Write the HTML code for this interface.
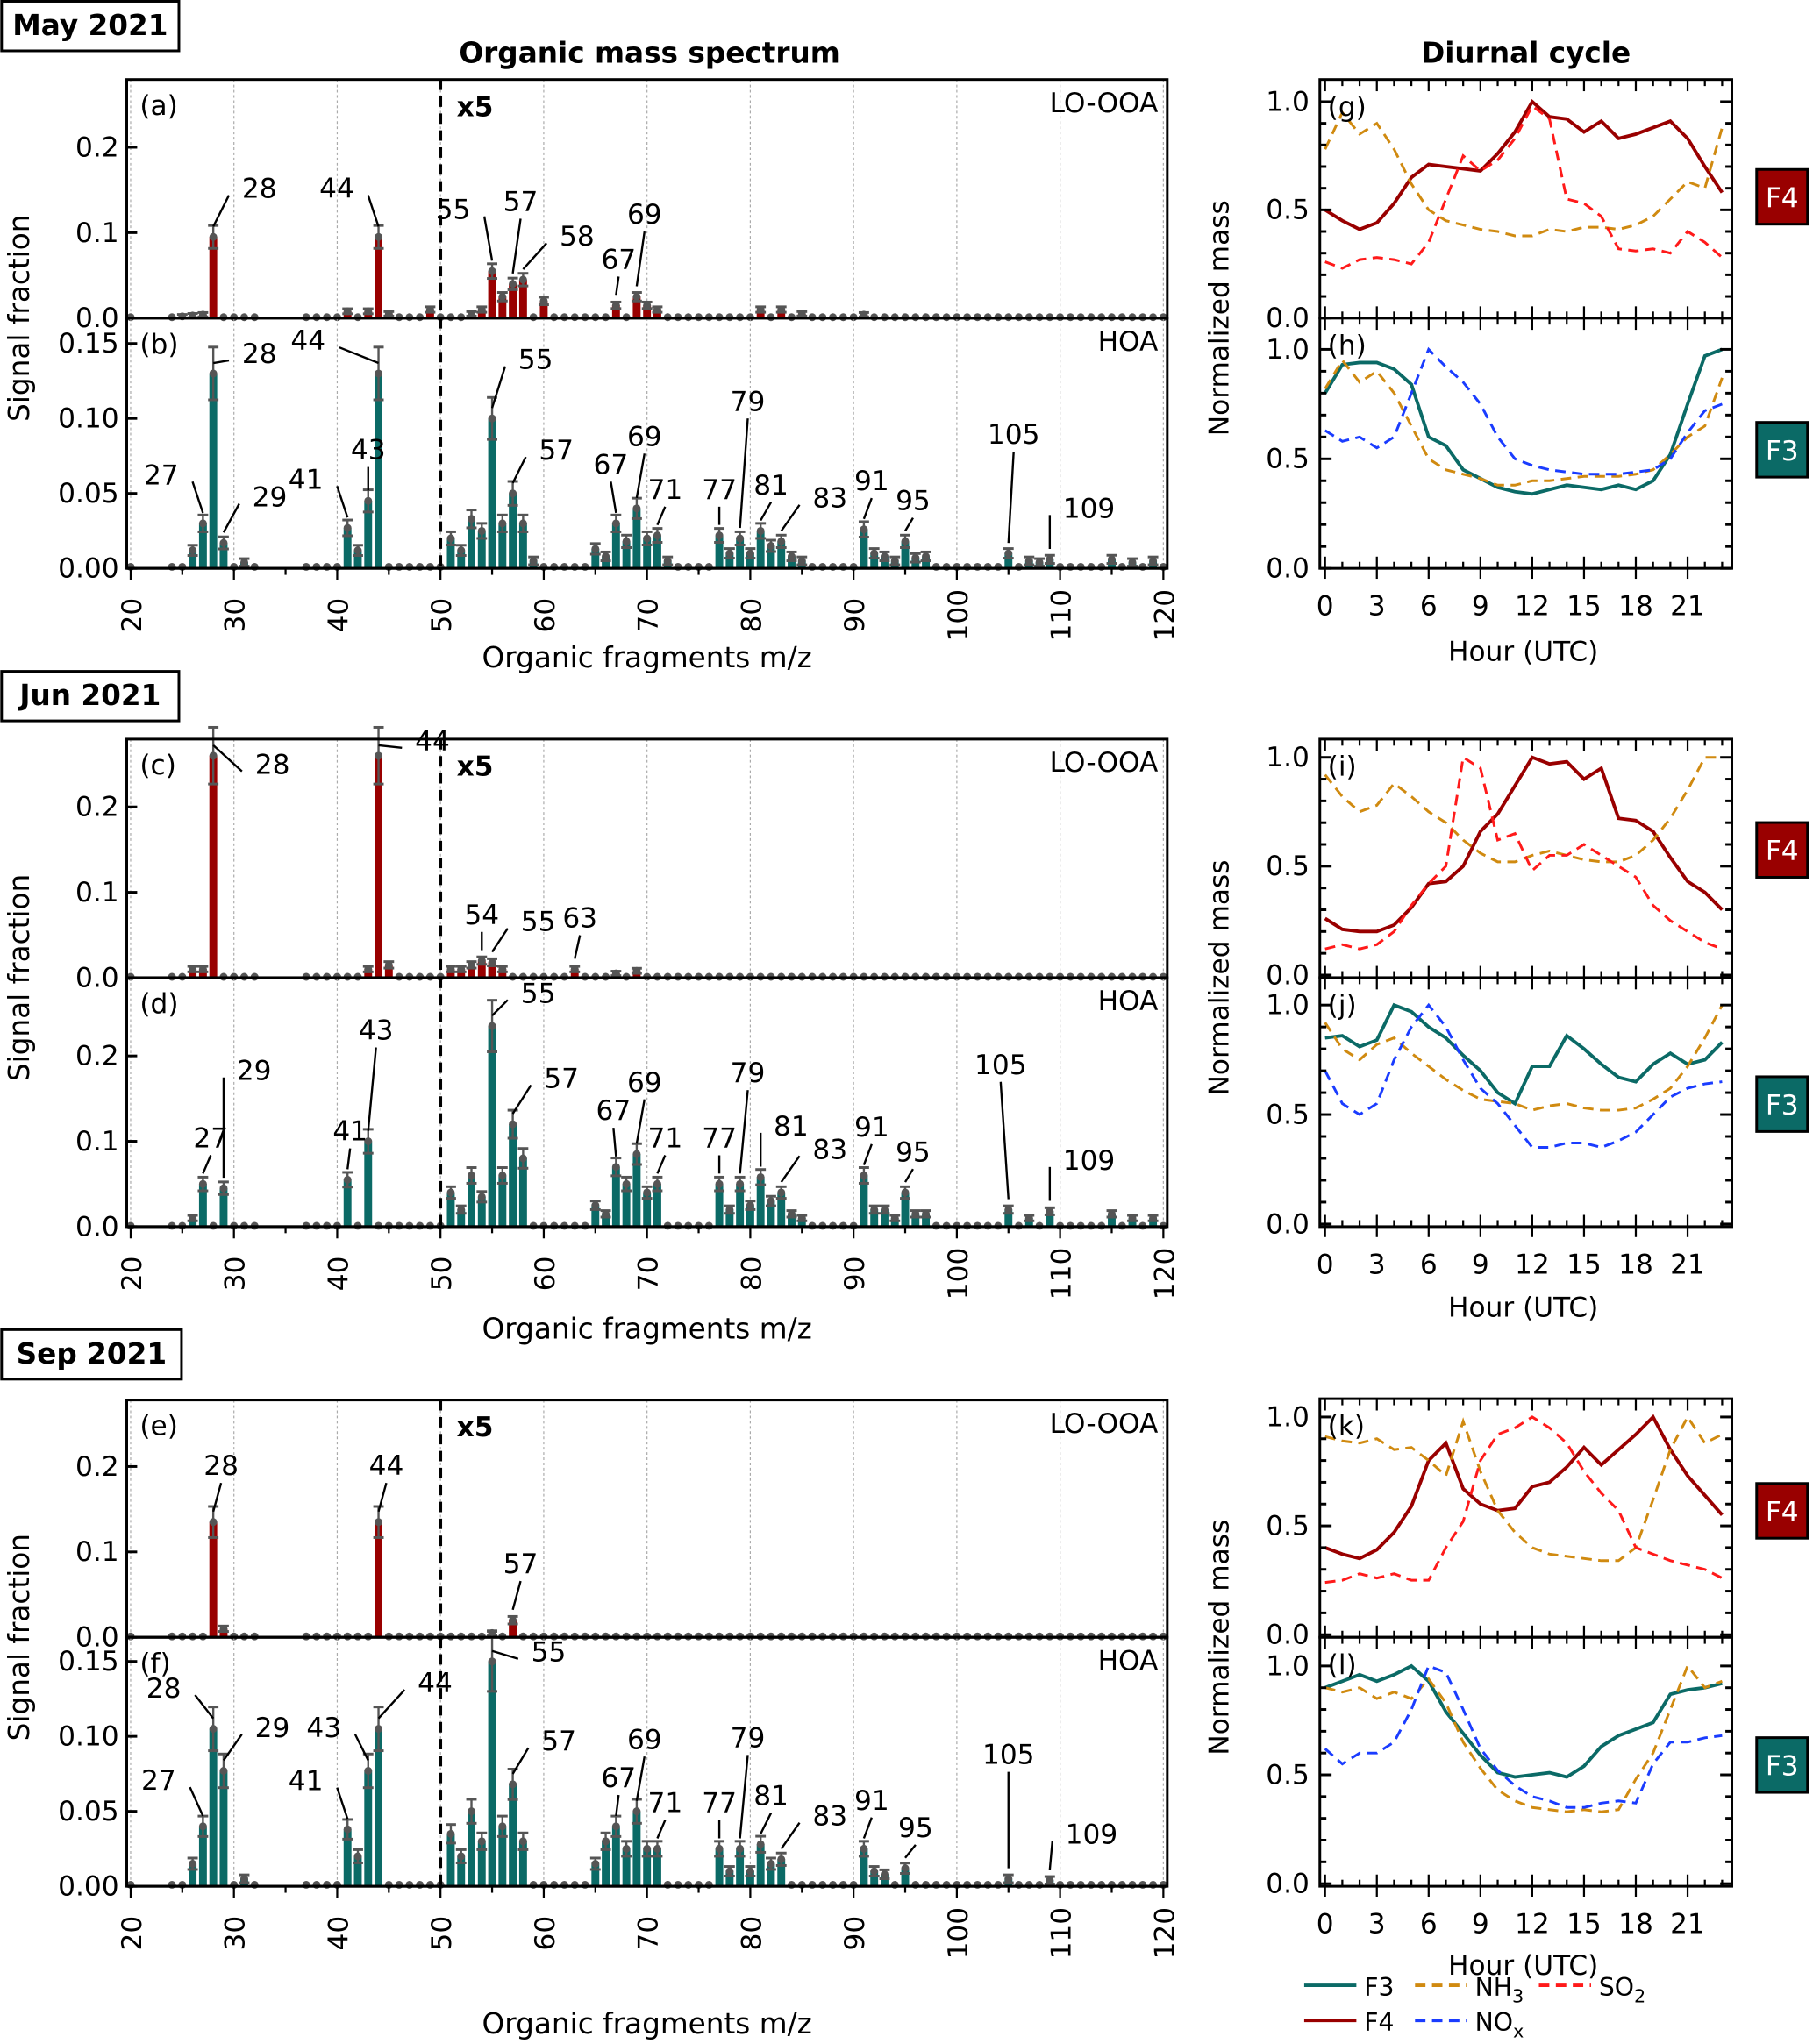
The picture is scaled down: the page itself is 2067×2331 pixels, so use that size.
<!DOCTYPE html>
<html><head><meta charset="utf-8"><style>
html,body{margin:0;padding:0;background:#fff}
svg{display:block}
text{font-family:"DejaVu Sans","Liberation Sans",sans-serif;fill:#000}
</style></head><body>
<svg id="fig" width="2067" height="2331" viewBox="0 0 1390 1568" xmlns="http://www.w3.org/2000/svg"></svg>
<script>
// ---- spectrum data (plotted signal fraction, m/z>50 already x5) ----
const mzA=[25,26,27,28,41,43,44,45,49,53,54,55,56,57,58,60,67,69,70,71,81,83,85,91];
const valA=[0.002,0.003,0.004,0.095,0.008,0.008,0.095,0.005,0.01,0.005,0.01,0.055,0.025,0.04,0.045,0.02,0.015,0.025,0.015,0.01,0.01,0.01,0.005,0.004];
const mzB=[26,27,28,29,31,41,42,43,44,51,52,53,54,55,56,57,58,59,65,66,67,68,69,70,71,72,77,78,79,80,81,82,83,84,85,91,92,93,94,95,96,97,105,107,108,109,115,117,119];
const valB=[0.012,0.03,0.13,0.017,0.004,0.027,0.012,0.045,0.13,0.02,0.012,0.033,0.025,0.10,0.03,0.05,0.03,0.005,0.013,0.008,0.03,0.018,0.04,0.02,0.022,0.005,0.022,0.01,0.02,0.01,0.025,0.015,0.018,0.008,0.005,0.026,0.01,0.008,0.005,0.018,0.007,0.008,0.01,0.005,0.004,0.006,0.006,0.004,0.005];
const mzC=[26,27,28,43,44,45,51,52,53,54,55,56,63,67,69];
const valC=[0.01,0.01,0.26,0.01,0.26,0.015,0.01,0.01,0.015,0.02,0.018,0.01,0.01,0.005,0.008];
const mzD=[26,27,29,41,43,51,52,53,54,55,56,57,58,65,66,67,68,69,70,71,77,78,79,80,81,82,83,84,85,91,92,93,94,95,96,97,105,107,109,115,117,119];
const valD=[0.01,0.05,0.045,0.055,0.1,0.04,0.02,0.06,0.035,0.235,0.06,0.12,0.08,0.025,0.015,0.07,0.05,0.085,0.04,0.05,0.05,0.02,0.05,0.025,0.058,0.03,0.04,0.015,0.01,0.06,0.02,0.02,0.01,0.04,0.015,0.015,0.02,0.01,0.018,0.015,0.01,0.01];
const mzE=[28,29,44,55,57];
const valE=[0.135,0.01,0.135,0.005,0.02];
const mzF=[26,27,28,29,31,41,42,43,44,51,52,53,54,55,56,57,58,65,66,67,68,69,70,71,77,78,79,80,81,82,83,91,92,93,95,105,109];
const valF=[0.015,0.04,0.105,0.077,0.005,0.038,0.02,0.077,0.105,0.035,0.02,0.05,0.03,0.15,0.04,0.068,0.03,0.015,0.03,0.04,0.025,0.05,0.025,0.025,0.025,0.01,0.025,0.01,0.028,0.015,0.018,0.025,0.01,0.008,0.012,0.005,0.004];
// annotations: [m/z, label, dx, dy]
const annA=[[28,"28",22,-22],[44,"44",-18,-22],[55,"55",-16,-32],[57,"57",6,-48],[58,"58",28,-18],[67,"67",2,-20],[69,"69",6,-48]];
const annB=[[27,"27",-18,-22],[28,"28",22,0],[29,"29",22,-20],[41,"41",-18,-22],[43,"43",0,-24],[44,"44",-40,-10],[55,"55",20,-30],[57,"57",20,-18],[67,"67",-4,-30],[69,"69",6,-40],[71,"71",6,-20],[77,"77",0,-20],[79,"79",6,-90],[81,"81",8,-20],[83,"83",24,-18],[91,"91",6,-22],[95,"95",6,-16],[105,"105",4,-76],[109,"109",10,-24]];
const annC=[[28,"28",32,22],[44,"44",28,4],[54,"54",0,-20],[55,"55",22,-16],[63,"63",4,-24]];
const annD=[[27,"27",6,-20],[29,"29",10,-75],[41,"41",2,-22],[43,"43",6,-70],[55,"55",22,-10],[57,"57",24,-20],[67,"67",-2,-28],[69,"69",6,-40],[71,"71",6,-20],[77,"77",0,-20],[79,"79",6,-70],[81,"81",10,-24],[83,"83",24,-18],[91,"91",6,-22],[95,"95",6,-16],[105,"105",-6,-96],[109,"109",10,-24]];
const annE=[[28,"28",6,-28],[44,"44",6,-28],[57,"57",6,-28]];
const annF=[[27,"27",-20,-20],[28,"28",-24,-16],[29,"29",24,-18],[41,"41",-18,-22],[43,"43",-20,-18],[44,"44",30,-20],[55,"55",30,8],[57,"57",22,-18],[67,"67",2,-22],[69,"69",6,-40],[71,"71",6,-20],[77,"77",0,-20],[79,"79",6,-70],[81,"81",8,-22],[83,"83",24,-18],[91,"91",6,-22],[95,"95",8,-16],[105,"105",0,-80],[109,"109",12,-20]];
// ---- diurnal data ----
const hours=[0,1,2,3,4,5,6,7,8,9,10,11,12,13,14,15,16,17,18,19,20,21,22,23];
const gF4=[0.5,0.45,0.41,0.44,0.53,0.65,0.71,0.70,0.69,0.68,0.76,0.86,1.0,0.93,0.92,0.86,0.91,0.83,0.85,0.88,0.91,0.83,0.70,0.58];
const gNH3=[0.78,0.95,0.85,0.9,0.78,0.62,0.5,0.45,0.43,0.41,0.40,0.38,0.38,0.41,0.40,0.42,0.42,0.41,0.43,0.47,0.55,0.63,0.60,0.88];
const gSO2=[0.26,0.23,0.27,0.28,0.27,0.25,0.35,0.55,0.75,0.68,0.73,0.83,0.98,0.92,0.55,0.53,0.47,0.32,0.31,0.32,0.30,0.40,0.35,0.28];
const hF3=[0.8,0.93,0.94,0.94,0.91,0.84,0.6,0.56,0.45,0.41,0.37,0.35,0.34,0.36,0.38,0.37,0.36,0.38,0.36,0.4,0.52,0.75,0.97,1.0];
const hNH3=[0.82,0.95,0.85,0.9,0.8,0.65,0.5,0.45,0.43,0.41,0.38,0.38,0.4,0.4,0.41,0.42,0.42,0.42,0.43,0.45,0.52,0.60,0.65,0.87];
const hNOx=[0.63,0.58,0.6,0.55,0.6,0.8,1.0,0.92,0.85,0.75,0.6,0.5,0.47,0.45,0.44,0.43,0.43,0.43,0.44,0.45,0.5,0.62,0.72,0.75];
const iF4=[0.26,0.21,0.2,0.2,0.23,0.31,0.42,0.43,0.5,0.66,0.74,0.87,1.0,0.97,0.98,0.9,0.95,0.72,0.71,0.66,0.54,0.43,0.38,0.3];
const iNH3=[0.92,0.82,0.75,0.78,0.88,0.82,0.75,0.7,0.62,0.56,0.52,0.52,0.55,0.57,0.55,0.53,0.52,0.52,0.55,0.62,0.72,0.85,1.0,1.0];
const iSO2=[0.12,0.14,0.12,0.14,0.20,0.32,0.42,0.50,1.0,0.95,0.62,0.65,0.48,0.55,0.55,0.6,0.55,0.50,0.45,0.32,0.25,0.2,0.15,0.12];
const jF3=[0.85,0.86,0.81,0.84,1.0,0.97,0.90,0.85,0.77,0.70,0.60,0.55,0.72,0.72,0.86,0.80,0.73,0.67,0.65,0.73,0.78,0.73,0.75,0.83];
const jNH3=[0.92,0.80,0.75,0.82,0.85,0.78,0.72,0.66,0.61,0.57,0.56,0.55,0.52,0.54,0.55,0.53,0.52,0.52,0.53,0.57,0.62,0.72,0.85,1.0];
const jNOx=[0.70,0.55,0.50,0.55,0.75,0.90,1.0,0.90,0.75,0.62,0.55,0.45,0.35,0.35,0.37,0.37,0.35,0.38,0.42,0.5,0.58,0.62,0.64,0.65];
const kF4=[0.4,0.37,0.35,0.39,0.47,0.59,0.80,0.88,0.67,0.60,0.57,0.58,0.68,0.70,0.77,0.86,0.78,0.85,0.92,1.0,0.85,0.73,0.64,0.55];
const kNH3=[0.91,0.89,0.88,0.90,0.85,0.86,0.80,0.73,0.98,0.75,0.57,0.47,0.40,0.37,0.36,0.35,0.34,0.34,0.40,0.62,0.85,1.0,0.88,0.92];
const kSO2=[0.24,0.25,0.28,0.26,0.28,0.25,0.25,0.40,0.52,0.80,0.92,0.95,1.0,0.95,0.88,0.75,0.65,0.57,0.40,0.37,0.34,0.32,0.30,0.26];
const lF3=[0.90,0.93,0.96,0.93,0.96,1.0,0.93,0.79,0.69,0.59,0.51,0.49,0.5,0.51,0.49,0.54,0.63,0.68,0.71,0.74,0.87,0.89,0.90,0.92];
const lNH3=[0.90,0.88,0.90,0.85,0.88,0.85,0.94,0.83,0.65,0.53,0.43,0.38,0.35,0.34,0.33,0.34,0.33,0.34,0.48,0.60,0.80,1.0,0.90,0.93];
const lNOx=[0.62,0.55,0.60,0.60,0.65,0.80,1.0,0.97,0.80,0.62,0.52,0.45,0.40,0.38,0.35,0.35,0.37,0.38,0.37,0.55,0.65,0.65,0.67,0.68];
const mzTicks=[20,30,40,50,60,70,80,90,100,110,120];
const hourTicks=[0,3,6,9,12,15,18,21];

const RED="#990000",TEAL="#0b6a66",ORANGE="#d08a10",BLUE="#1a3cff",SO2C="#ff1a1a";
const NS="http://www.w3.org/2000/svg";
const svg=document.getElementById('fig');
function el(tag,attrs,parent){const e=document.createElementNS(NS,tag);for(const k in attrs)e.setAttribute(k,attrs[k]);(parent||svg).appendChild(e);return e;}
function txt(s,attrs,parent){const t=el('text',attrs,parent);t.textContent=s;return t;}

const X0=97,X1=895;
const xm=m=>100+(m-20)*7.92;

function specPanel(name,top,bot,scale,ticks,tickLbl,color,mz,val,ann,letter,type,showX){
  const g=el('g',{});
  
  
  const y=v=>bot-v*scale;
  for(const t of mzTicks){const gl=el('line',{x1:xm(t),x2:xm(t),y1:top,y2:bot,stroke:'#aaa','stroke-width':0.8,'stroke-dasharray':'2,2'},g);}
  for(let m=20;m<=120;m++){
    if(m===21||m===22||m===23||m===33||m===34||m===35||m===36)continue;
    const i=mz.indexOf(m);const v=i>=0?val[i]:0.001;
    if(i>=0){
      const b=el('rect',{x:xm(m)-3,y:y(v),width:6,height:bot-y(v),fill:color},g);
      
      
      const e=v*0.12+0.002;
      el('line',{x1:xm(m),x2:xm(m),y1:y(v+e),y2:y(Math.max(v-e,0)),stroke:'#555','stroke-width':1.6},g);
      el('line',{x1:xm(m)-4,x2:xm(m)+4,y1:y(v+e),y2:y(v+e),stroke:'#555','stroke-width':2},g);
      el('line',{x1:xm(m)-4,x2:xm(m)+4,y1:y(Math.max(v-e,0)),y2:y(Math.max(v-e,0)),stroke:'#555','stroke-width':2},g);
    }
    const d=el('circle',{cx:xm(m),cy:y(v),r:3,fill:'#555'},g);
    
    
  }
  el('line',{x1:X0,x2:X1,y1:bot,y2:bot,stroke:'#000','stroke-width':2},g);
  for(const a of ann){
    const i=mz.indexOf(a[0]);const v=i>=0?val[i]:0;const bx=xm(a[0]),by=y(v)-8;
    const tx=bx+a[2],ty=by+a[3];
    el('line',{x1:bx,y1:by,x2:tx-(a[2]>8?10:a[2]<-8?-10:0),y2:ty+(Math.abs(a[2])>8?-2:6),stroke:'#000','stroke-width':1.6},g);
    const lt=txt(a[1],{x:tx+(a[2]>8?0:a[2]<-8?-14:0),y:ty,'font-size':21,'text-anchor':a[2]>8?'start':'middle'},g);
    
    
  }
  el('line',{x1:xm(50),x2:xm(50),y1:top,y2:bot,stroke:'#000','stroke-width':2.5,'stroke-dasharray':'8,5'},g);
  ticks.forEach((t,i)=>{el('line',{x1:X0,x2:X0+8,y1:y(t),y2:y(t),stroke:'#000','stroke-width':2},g);
    const tl=txt(tickLbl[i],{x:X0-6,y:y(t)+7,'font-size':21,'text-anchor':'end'},g);});
  txt(letter,{x:107,y:top+27,'font-size':21},g);
  txt(type,{x:888,y:top+25,'font-size':21,'text-anchor':'end'},g);
  if(type==='LO-OOA'){const x5=txt('x5',{x:350,y:top+28,'font-size':21,'font-weight':'bold'},g);}
  el('rect',{x:X0,y:top,width:X1-X0,height:bot-top,fill:'none',stroke:'#000','stroke-width':2},g);
  if(showX){
    for(let m=20;m<=120;m+=5){el('line',{x1:xm(m),x2:xm(m),y1:bot,y2:bot+(m%10?5:9),stroke:'#000','stroke-width':1.5},g);}
    for(const t of mzTicks){const tl=txt(String(t),{x:0,y:0,'font-size':21,'text-anchor':'middle',transform:`translate(${xm(t)+8},${bot+36}) rotate(-90)`},g);}
  }
}

const HX0=1012,HX1=1328;const xh=h=>1016+h*13.24;
function diurnalPanel(name,top,bot,zero,one,letter,series,showX){
  const g=el('g',{});
  
  
  const y=v=>zero-(zero-one)*v;
  for(const s of series){
    const p=el('polyline',{points:hours.map((h,i)=>xh(h)+','+y(s.d[i])).join(' '),fill:'none',stroke:s.c,'stroke-width':s.dash?2:2.6,'stroke-dasharray':s.dash?'8,5':'none'},g);
    
    
  }
  el('rect',{x:HX0,y:top,width:HX1-HX0,height:bot-top,fill:'none',stroke:'#000','stroke-width':2},g);
  for(let v=0;v<=1.001;v+=0.1){const L=(Math.round(v*10)%5===0)?9:5;
    el('line',{x1:HX0,x2:HX0+L,y1:y(v),y2:y(v),stroke:'#000','stroke-width':2},g);
    el('line',{x1:HX1-L,x2:HX1,y1:y(v),y2:y(v),stroke:'#000','stroke-width':2},g);}
  ['0.0','0.5','1.0'].forEach((l,i)=>{const tl=txt(l,{x:HX0-8,y:y(i*0.5)+7,'font-size':21,'text-anchor':'end'},g);});
  txt(letter,{x:1018,y:top+28,'font-size':21},g);
  for(let h=0;h<=23;h++){const L=h%3?5:9;el('line',{x1:xh(h),x2:xh(h),y1:bot,y2:bot-L,stroke:'#000','stroke-width':1.5},g);el('line',{x1:xh(h),x2:xh(h),y1:top,y2:top+L,stroke:'#000','stroke-width':1.5},g);}
  if(showX){for(const h of hourTicks){el('line',{x1:xh(h),x2:xh(h),y1:bot,y2:bot+8,stroke:'#000','stroke-width':1.5},g);
    const tl=txt(String(h),{x:xh(h),y:bot+36,'font-size':21,'text-anchor':'middle'},g);}}
}
function tag(name,x,y,label,color){const r=el('rect',{x:x,y:y,width:39,height:42,fill:color,stroke:'#000','stroke-width':2});txt(label,{x:x+19.5,y:y+29,'font-size':21,'text-anchor':'middle',fill:'#fff',style:'fill:#fff'});}
function monthBox(name,x,y,w,label){const r=el('rect',{x:x,y:y,width:w,height:38,fill:'#fff',stroke:'#000','stroke-width':2});txt(label,{x:x+w/2,y:y+26,'font-size':22,'font-weight':'bold','text-anchor':'middle'});}

const t1=txt('Organic mass spectrum',{x:498,y:48,'font-size':22,'font-weight':'bold','text-anchor':'middle'});

const t2=txt('Diurnal cycle',{x:1170,y:48,'font-size':22,'font-weight':'bold','text-anchor':'middle'});


const blocks=[
 {m:'May 2021',mb:1,w:136,a:[61,244],b:[244,436],sa:655,sb:1150,ta:[0,0.1,0.2],la:['0.0','0.1','0.2'],tb:[0,0.05,0.1,0.15],lb:['0.00','0.05','0.10','0.15'],
  A:[mzA,valA,annA],B:[mzB,valB,annB],L:['(a)','(b)'],xl:512,
  dg:[61,244,244,78],dh:[244,436,436,268],DL:['(g)','(h)'],
  s1:[{n:'f4',c:RED,d:gF4},{n:'nh3',c:ORANGE,d:gNH3,dash:1},{n:'so2',c:SO2C,d:gSO2,dash:1}],
  s2:[{n:'f3',c:TEAL,d:hF3},{n:'nh3',c:ORANGE,d:hNH3,dash:1},{n:'nox',c:BLUE,d:hNOx,dash:1}],f4:130,f3:324,hy:507},
 {m:'Jun 2021',mb:515,w:136,a:[567,750],b:[750,941],sa:655,sb:655,ta:[0,0.1,0.2],la:['0.0','0.1','0.2'],tb:[0,0.1,0.2],lb:['0.0','0.1','0.2'],
  A:[mzC,valC,annC],B:[mzD,valD,annD],L:['(c)','(d)'],xl:1027,
  dg:[567,750,748,581],dh:[750,941,939,771],DL:['(i)','(j)'],
  s1:[{n:'f4',c:RED,d:iF4},{n:'nh3',c:ORANGE,d:iNH3,dash:1},{n:'so2',c:SO2C,d:iSO2,dash:1}],
  s2:[{n:'f3',c:TEAL,d:jF3},{n:'nh3',c:ORANGE,d:jNH3,dash:1},{n:'nox',c:BLUE,d:jNOx,dash:1}],f4:631,f3:826,hy:1010},
 {m:'Sep 2021',mb:1020,w:138,a:[1074,1256],b:[1256,1447],sa:655,sb:1150,ta:[0,0.1,0.2],la:['0.0','0.1','0.2'],tb:[0,0.05,0.1,0.15],lb:['0.00','0.05','0.10','0.15'],
  A:[mzE,valE,annE],B:[mzF,valF,annF],L:['(e)','(f)'],xl:1560,
  dg:[1073,1256,1254,1087],dh:[1256,1447,1445,1278],DL:['(k)','(l)'],
  s1:[{n:'f4',c:RED,d:kF4},{n:'nh3',c:ORANGE,d:kNH3,dash:1},{n:'so2',c:SO2C,d:kSO2,dash:1}],
  s2:[{n:'f3',c:TEAL,d:lF3},{n:'nh3',c:ORANGE,d:lNH3,dash:1},{n:'nox',c:BLUE,d:lNOx,dash:1}],f4:1138,f3:1333,hy:1515}
];
blocks.forEach((B,k)=>{
  specPanel('lo-ooa-spectrum-'+k,B.a[0],B.a[1],B.sa,B.ta,B.la,RED,B.A[0],B.A[1],B.A[2],B.L[0],'LO-OOA',false);
  specPanel('hoa-spectrum-'+k,B.b[0],B.b[1],B.sb,B.tb,B.lb,TEAL,B.B[0],B.B[1],B.B[2],B.L[1],'HOA',true);
  const yl=txt('Signal fraction',{x:0,y:0,'font-size':22,'text-anchor':'middle',transform:`translate(22,${B.a[1]}) rotate(-90)`});
  
  const xlbl=txt('Organic fragments m/z',{x:496,y:B.xl,'font-size':22,'text-anchor':'middle'});
  
  diurnalPanel('f4-diurnal-'+k,B.dg[0],B.dg[1],B.dg[2],B.dg[3],B.DL[0],B.s1,false);
  diurnalPanel('f3-diurnal-'+k,B.dh[0],B.dh[1],B.dh[2],B.dh[3],B.DL[1],B.s2,true);
  const nl=txt('Normalized mass',{x:0,y:0,'font-size':21,'text-anchor':'middle',transform:`translate(942,${B.dg[1]}) rotate(-90)`});
  
  const hl=txt('Hour (UTC)',{x:1168,y:B.hy,'font-size':21,'text-anchor':'middle'});
  
  tag('f4-tag',1347,B.f4,'F4',RED);tag('f3-tag',1347,B.f3,'F3',TEAL);
  monthBox('month-label',1,B.mb,B.w,B.m);
});
// legend
const lg=el('g',{});


const legItems=[['F3',TEAL,0,1000,1529],['F4',RED,0,1000,1556],['NH',ORANGE,1,1085,1529],['NO',BLUE,1,1085,1556],['SO',SO2C,1,1180,1529]];
const subs=['','','3','x','2'];
legItems.forEach((it,i)=>{
  el('line',{x1:it[3],x2:it[3]+40,y1:it[4]-6,y2:it[4]-6,stroke:it[1],'stroke-width':2.6,'stroke-dasharray':it[2]?'8,5':'none'},lg);
  const t=txt(it[0],{x:it[3]+46,y:it[4]+2,'font-size':19},lg);
  
  
  if(subs[i]){const s=el('tspan',{'font-size':14,dy:5},t);s.textContent=subs[i];}
});
</script>
</body></html>
